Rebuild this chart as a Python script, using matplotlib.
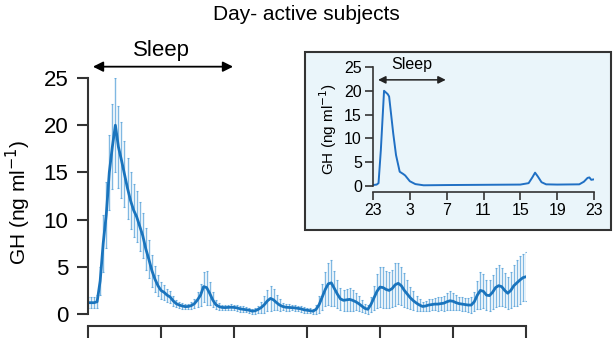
import numpy as np
from matplotlib import pyplot as plt
from matplotlib.patches import Rectangle

plt.rcParams['font.family'] = ['Liberation Sans', 'DejaVu Sans']

# Main panel: mean GH every 10 min from 23:00 (hours after 23:00)
hours = np.arange(145) / 6.0
gh_mean = [
    1.2, 1.2, 1.2, 1.3, 3.5, 7.5,
    10.5, 15.0, 17.7, 20.0, 17.7, 16.3,
    14.8, 13.3, 12.0, 11.0, 10.3, 9.3,
    8.3, 6.9, 5.8, 4.6, 3.7, 3.0,
    2.5, 2.3, 2.0, 1.8, 1.4, 1.1,
    0.95, 0.85, 0.78, 0.8, 0.9, 1.1,
    1.5, 2.0, 2.9, 2.8, 2.2, 1.5,
    1.0, 0.8, 0.7, 0.68, 0.7, 0.72,
    0.7, 0.65, 0.55, 0.5, 0.45, 0.4,
    0.3, 0.35, 0.5, 0.7, 1.0, 1.4,
    1.65, 1.5, 1.2, 0.95, 0.8, 0.72,
    0.7, 0.68, 0.65, 0.6, 0.55, 0.45,
    0.4, 0.35, 0.3, 0.5, 1.0, 1.8,
    2.6, 3.2, 3.3, 2.7, 2.1, 1.6,
    1.45, 1.5, 1.55, 1.45, 1.3, 1.1,
    0.85, 0.6, 0.5, 1.0, 1.7, 2.4,
    2.85, 2.8, 2.6, 2.5, 2.7, 3.1,
    3.25, 3.0, 2.5, 2.1, 1.7, 1.4,
    1.15, 0.95, 0.8, 0.85, 0.95, 1.0,
    1.05, 1.05, 1.1, 1.15, 1.3, 1.4,
    1.35, 1.2, 1.1, 1.05, 1.0, 0.95,
    0.95, 1.3, 2.0, 2.5, 2.4, 2.0,
    1.95, 2.3, 2.8, 3.0, 2.9, 2.5,
    2.2, 2.5, 3.0, 3.3, 3.6, 3.85,
    3.95,
]
gh_err = [
    0.6, 0.6, 0.6, 0.7, 1.5, 3.0,
    3.5, 4.0, 4.5, 5.0, 4.3, 4.0,
    3.5, 3.2, 3.0, 2.8, 2.7, 2.6,
    2.4, 2.2, 2.0, 1.7, 1.4, 1.1,
    0.9, 0.8, 0.7, 0.6, 0.5, 0.4,
    0.35, 0.3, 0.3, 0.3, 0.35, 0.5,
    0.8, 1.2, 1.6, 1.8, 1.2, 0.8,
    0.5, 0.35, 0.3, 0.3, 0.3, 0.3,
    0.3, 0.3, 0.3, 0.3, 0.25, 0.25,
    0.25, 0.3, 0.4, 0.6, 0.9, 1.1,
    1.3, 1.1, 0.8, 0.6, 0.4, 0.35,
    0.35, 0.3, 0.3, 0.3, 0.3, 0.3,
    0.25, 0.25, 0.25, 0.5, 0.9, 1.4,
    1.8, 2.2, 2.4, 1.9, 1.5, 1.2,
    1.1, 1.2, 1.2, 1.1, 0.9, 0.8,
    0.6, 0.5, 0.5, 0.8, 1.3, 1.8,
    2.1, 2.2, 2.0, 1.9, 2.0, 2.3,
    2.2, 2.0, 1.8, 1.5, 1.2, 1.0,
    0.8, 0.6, 0.5, 0.5, 0.6, 0.6,
    0.6, 0.7, 0.7, 0.8, 0.9, 1.0,
    0.9, 0.8, 0.7, 0.7, 0.7, 0.7,
    0.8, 1.0, 1.5, 2.0, 1.8, 1.6,
    1.6, 1.8, 2.1, 2.2, 2.0, 1.8,
    1.7, 1.9, 2.2, 2.4, 2.5, 2.5,
    2.6,
]

# Inset: smoothed profile
inset_hours = [0, 0.4, 0.6, 0.85, 1.2, 1.6, 1.75, 2.2, 2.5, 2.9, 3.3, 3.5, 4.0,
               4.6, 5.5, 8, 12, 16, 16.9, 17.3, 17.6, 17.9, 18.3, 18.8, 20,
               22.4, 22.9, 23.3, 23.5, 23.7, 24]
inset_gh = [0.2, 0.3, 0.6, 7.5, 20.0, 19.3, 18.8, 11.0, 6.5, 3.0, 2.5, 2.2, 1.0,
            0.4, 0.15, 0.2, 0.25, 0.3, 0.6, 1.8, 2.8, 2.0, 0.8, 0.35, 0.3,
            0.35, 0.9, 1.7, 1.8, 1.3, 1.4]
inset_ticklabels = ['23', '3', '7', '11', '15', '19', '23']
sleep_span = (0.27, 7.95)

blue = '#1a74bd'
spine_col = '#333333'

fig = plt.figure(figsize=(6.13, 3.38), dpi=100)
fig.text(0.5, 0.957, 'Day- active subjects', ha='center', va='center', fontsize=15)

# main axes
ax = fig.add_axes([88/613, 12/338, 438/613, 248/338])
ax.errorbar(hours, gh_mean, yerr=gh_err, fmt='none', ecolor='#2b8ad0', alpha=0.6,
            elinewidth=1.0, capsize=1.0, capthick=0.8)
ax.plot(hours, gh_mean, color=blue, lw=2.0)
ax.set_xlim(0, 24)
ax.set_ylim(-1.27, 25)
ax.set_yticks([0, 5, 10, 15, 20, 25])
ax.set_xticks(np.arange(0, 25, 4))
ax.set_xticklabels([])
for s in ['top', 'right']:
    ax.spines[s].set_visible(False)
ax.spines['left'].set_bounds(0, 25)
for s in ['left', 'bottom']:
    ax.spines[s].set_color(spine_col)
    ax.spines[s].set_linewidth(1.5)
ax.tick_params(axis='y', length=8, width=1.5, color=spine_col, labelsize=16, pad=6)
ax.tick_params(axis='x', length=9, width=1.5, color=spine_col)
ax.set_ylabel('GH (ng ml$^{-1}$)', fontsize=15, labelpad=8)
ax.annotate('', xy=(sleep_span[0], 26.2), xytext=(sleep_span[1], 26.2),
            arrowprops=dict(arrowstyle='<|-|>', color='black', lw=1.3,
                            mutation_scale=15, shrinkA=0, shrinkB=0),
            annotation_clip=False)
ax.text(4.05, 27.9, 'Sleep', ha='center', va='center', fontsize=16)

# inset box
fig.patches.append(Rectangle((305/613, (338-230)/338), 306/613, 178/338,
                             transform=fig.transFigure, facecolor='#eaf5fa',
                             edgecolor='#333333', lw=1.5, zorder=2))

axi = fig.add_axes([373/613, (338-192)/338, 221/613, 125/338], zorder=3)
axi.patch.set_visible(False)
axi.plot(inset_hours, inset_gh, color='#2070c4', lw=1.4)
axi.set_xlim(0, 24)
axi.set_ylim(-1.26, 25)
axi.set_yticks([0, 5, 10, 15, 20, 25])
axi.set_xticks(np.arange(0, 25, 4))
axi.set_xticklabels(inset_ticklabels)
for s in ['top', 'right']:
    axi.spines[s].set_visible(False)
axi.spines['left'].set_bounds(0, 25)
for s in ['left', 'bottom']:
    axi.spines[s].set_color(spine_col)
    axi.spines[s].set_linewidth(1.2)
axi.tick_params(axis='both', length=6, width=1.2, color=spine_col, labelsize=11.5, pad=2)
axi.set_ylabel('GH (ng ml$^{-1}$)', fontsize=11, labelpad=4)
axi.annotate('', xy=(0.55, 22.3), xytext=(7.9, 22.3),
             arrowprops=dict(arrowstyle='<|-|>', color='#222222', lw=1.1,
                             mutation_scale=11, shrinkA=0, shrinkB=0),
             annotation_clip=False)
axi.text(4.2, 25.6, 'Sleep', ha='center', va='center', fontsize=11.5)

plt.savefig('out.png', dpi=100)
